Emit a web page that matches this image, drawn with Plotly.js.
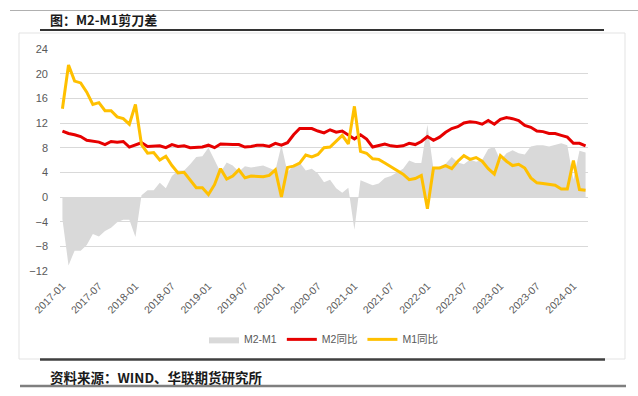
<!DOCTYPE html>
<html>
<head>
<meta charset="utf-8">
<script src="https://cdn.plot.ly/plotly-3.0.1.min.js"></script>
<style>
html,body{margin:0;padding:0;background:#fff;}
#chart{width:638px;height:396px;}
</style>
</head>
<body>
<div id="chart"></div>
<script>
var months = [
"2017-01","2017-02","2017-03","2017-04","2017-05","2017-06","2017-07","2017-08","2017-09","2017-10","2017-11","2017-12",
"2018-01","2018-02","2018-03","2018-04","2018-05","2018-06","2018-07","2018-08","2018-09","2018-10","2018-11","2018-12",
"2019-01","2019-02","2019-03","2019-04","2019-05","2019-06","2019-07","2019-08","2019-09","2019-10","2019-11","2019-12",
"2020-01","2020-02","2020-03","2020-04","2020-05","2020-06","2020-07","2020-08","2020-09","2020-10","2020-11","2020-12",
"2021-01","2021-02","2021-03","2021-04","2021-05","2021-06","2021-07","2021-08","2021-09","2021-10","2021-11","2021-12",
"2022-01","2022-02","2022-03","2022-04","2022-05","2022-06","2022-07","2022-08","2022-09","2022-10","2022-11","2022-12",
"2023-01","2023-02","2023-03","2023-04","2023-05","2023-06","2023-07","2023-08","2023-09","2023-10","2023-11","2023-12",
"2024-01","2024-02","2024-03"
];

var m2Yoy = [
10.7,10.3,10.1,9.8,9.2,9.0,8.9,8.5,9.0,8.9,9.0,8.1,
8.5,8.8,8.2,8.3,8.3,8.0,8.5,8.2,8.3,8.0,8.0,8.1,
8.4,8.0,8.6,8.5,8.5,8.5,8.1,8.2,8.4,8.4,8.2,8.7,
8.4,8.8,10.1,11.1,11.1,11.1,10.7,10.4,10.9,10.5,10.7,10.1,
9.4,10.1,9.4,8.1,8.3,8.6,8.3,8.2,8.3,8.7,8.5,9.0,
9.8,9.2,9.7,10.5,11.1,11.4,12.0,12.2,12.1,11.8,12.4,11.8,
12.6,12.9,12.7,12.4,11.6,11.3,10.7,10.6,10.3,10.3,10.0,9.7,
8.7,8.7,8.3
];

var m1Yoy = [
14.3,21.4,18.8,18.5,17.0,15.0,15.3,14.0,14.0,13.0,12.7,11.8,
15.0,8.5,7.1,7.2,6.0,6.6,5.1,3.9,4.0,2.7,1.5,1.5,
0.4,2.0,4.6,2.9,3.4,4.4,3.1,3.4,3.4,3.3,3.5,4.4,
0.0,4.8,5.0,5.5,6.8,6.5,6.9,8.0,8.1,9.1,10.0,8.6,
14.7,7.4,7.1,6.2,6.1,5.5,4.9,4.2,3.7,2.8,3.0,3.5,
-1.9,4.7,4.7,5.1,4.6,5.8,6.7,6.1,6.4,5.8,4.6,3.7,
6.7,5.8,5.1,5.3,4.7,3.1,2.3,2.2,2.1,1.9,1.3,1.3,
5.9,1.2,1.1
];

var gapM2M1 = [
-3.6,-11.1,-8.7,-8.7,-7.8,-6.0,-6.4,-5.5,-5.0,-4.1,-3.7,-3.7,
-6.5,0.3,1.1,1.1,2.3,1.4,3.4,4.3,4.3,5.3,6.5,6.6,
8.0,6.0,4.0,5.6,5.1,4.1,5.0,4.8,5.0,5.1,4.7,4.3,
8.4,4.0,5.1,5.6,4.3,4.6,3.8,2.4,2.8,1.4,0.7,1.5,
-5.3,2.7,2.3,1.9,2.2,3.1,3.4,4.0,4.6,5.9,5.5,5.5,
11.7,4.5,5.0,5.4,6.5,5.6,5.3,6.1,5.7,6.0,7.8,8.1,
5.9,7.1,7.6,7.1,6.9,8.2,8.4,8.4,8.2,8.4,8.7,8.4,
2.8,7.5,7.2
];

var tickMonths = ["2017-01","2017-07","2018-01","2018-07","2019-01","2019-07","2020-01","2020-07",
"2021-01","2021-07","2022-01","2022-07","2023-01","2023-07","2024-01"];
var yTicks = [-12,-8,-4,0,4,8,12,16,20,24];

var seriesNames = ["M2-M1","M2同比","M1同比"];
var chartTitle = "图：M2-M1剪刀差";
var sourceText = "资料来源：WIND、华联期货研究所";

var FONT = "Liberation Sans, Noto Sans CJK SC, sans-serif";
var CJK = "Noto Sans CJK SC, sans-serif";
var LABEL = "#595959";
var GRID = "#d9d9d9";

var traces = [
  {x: months, y: gapM2M1, name: seriesNames[0], type: "scatter", mode: "lines",
   fill: "tozeroy", fillcolor: "#d9d9d9", line: {width: 0, color: "#d9d9d9"},
   hoverinfo: "skip", xaxis: "x", yaxis: "y"},
  {x: months, y: m2Yoy, name: seriesNames[1], type: "scatter", mode: "lines",
   line: {color: "#e60000", width: 3}, xaxis: "x", yaxis: "y"},
  {x: months, y: m1Yoy, name: seriesNames[2], type: "scatter", mode: "lines",
   line: {color: "#ffc000", width: 3}, xaxis: "x", yaxis: "y"}
];

var xr = [-0.4, months.length - 1 + 0.4];
var layout = {
  width: 638, height: 396,
  margin: {l: 60, r: 50, t: 49, b: 125, pad: 0},
  paper_bgcolor: "#ffffff", plot_bgcolor: "rgba(0,0,0,0)",
  showlegend: true,
  font: {family: FONT, color: LABEL, size: 10},
  xaxis: {
    type: "category", range: xr, categoryorder: "array", categoryarray: months,
    tickmode: "array", tickvals: tickMonths, ticktext: tickMonths,
    tickangle: -45, showgrid: false, zeroline: false, showline: false,
    ticks: "", ticklabelstandoff: 6,
    tickfont: {family: FONT, size: 10.5, color: LABEL}
  },
  xaxis2: {
    type: "category", overlaying: "x", matches: "x", anchor: "free", position: 1/3,
    range: xr, categoryorder: "array", categoryarray: months,
    tickmode: "array", tickvals: tickMonths,
    showticklabels: false, ticks: "outside", ticklen: 4, tickcolor: GRID, tickwidth: 1,
    showline: true, linecolor: GRID, linewidth: 1, showgrid: false, zeroline: false,
    layer: "below traces"
  },
  yaxis: {
    range: [-12, 24], tickmode: "array", tickvals: yTicks,
    showgrid: true, gridcolor: GRID, gridwidth: 1, zeroline: false, showline: false,
    ticks: "", ticklabelstandoff: 11,
    tickfont: {family: FONT, size: 11, color: LABEL}
  },
  yaxis2: {
    range: [-12, 24], overlaying: "y", side: "right", anchor: "x",
    tickmode: "array", tickvals: yTicks, showgrid: false, zeroline: false, showline: false,
    ticks: "", ticklabelstandoff: 12,
    tickfont: {family: FONT, size: 11, color: LABEL}
  },
  legend: {
    orientation: "h", x: 0.5, xanchor: "center", xref: "paper",
    y: -0.308, yanchor: "middle", itemwidth: 30,
    font: {family: FONT, size: 10.5, color: LABEL},
    bgcolor: "rgba(0,0,0,0)"
  },
  shapes: [
    {type: "line", xref: "paper", yref: "paper", xsizemode: "pixel", ysizemode: "pixel",
     xanchor: 0, yanchor: 1, x0: -50, x1: 578, y0: 38.5, y1: 38.5, line: {color: "#b0b0b0", width: 1}},
    {type: "rect", xref: "paper", yref: "paper", xsizemode: "pixel", ysizemode: "pixel",
     xanchor: 0, yanchor: 1, x0: -41, x1: 565, y0: 16, y1: -310, line: {color: "#e3e3e3", width: 1}, fillcolor: "rgba(0,0,0,0)"},
    {type: "line", xref: "paper", yref: "paper", xsizemode: "pixel", ysizemode: "pixel",
     xanchor: 0, yanchor: 1, x0: -20, x1: 544, y0: 19, y1: 19, line: {color: "#333333", width: 2}},
    {type: "line", xref: "paper", yref: "paper", xsizemode: "pixel", ysizemode: "pixel",
     xanchor: 0, yanchor: 1, x0: -20, x1: 545, y0: -310.5, y1: -310.5, line: {color: "#404040", width: 2.5}},
    {type: "line", xref: "paper", yref: "paper", xsizemode: "pixel", ysizemode: "pixel",
     xanchor: 0, yanchor: 1, x0: -40, x1: 566, y0: -337, y1: -337, line: {color: "#7f7f7f", width: 2.5}}
  ],
  annotations: [
    {text: chartTitle, xref: "paper", yref: "paper", x: -12 / 528, y: 1 + 29 / 221.7,
     xanchor: "left", yanchor: "middle", showarrow: false,
     font: {family: CJK, size: 13, color: "#1a1a1a", weight: "bold"}},
    {text: sourceText, xref: "paper", yref: "paper", x: -12 / 528, y: -(377 - 270.7) / 221.7,
     xanchor: "left", yanchor: "middle", showarrow: false,
     font: {family: CJK, size: 13.5, color: "#1a1a1a", weight: "bold"}}
  ]
};

Plotly.newPlot("chart", traces, layout, {displayModeBar: false, staticPlot: true});
</script>
</body>
</html>
